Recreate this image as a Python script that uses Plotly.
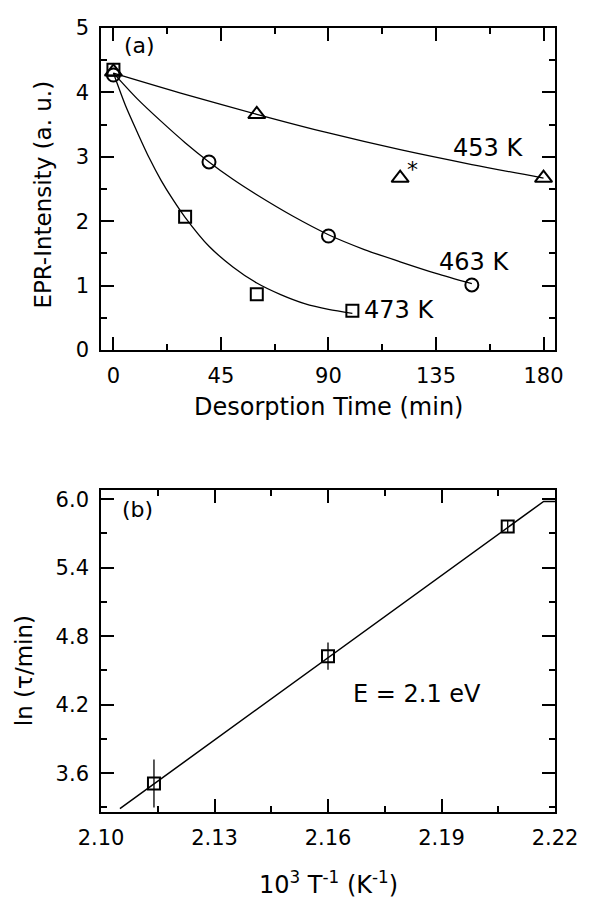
import plotly.graph_objects as go

# ---------------- data: panel (a) ----------------
t_453 = [0, 60, 180]
I_453 = [4.32, 3.66, 2.67]
t_453_star = [120]
I_453_star = [2.67]
t_463 = [0, 40, 90, 150]
I_463 = [4.27, 2.92, 1.77, 1.01]
t_473 = [0, 30, 60, 100]
I_473 = [4.35, 2.07, 0.865, 0.61]

# fit curves
tf_453 = [0, 30, 60, 90, 120, 150, 180]
If_453 = [4.30, 3.97, 3.66, 3.37, 3.11, 2.88, 2.67]
tf_463 = [0, 10, 20, 30, 40, 50, 60, 75, 90, 105, 120, 135, 150]
If_463 = [4.30, 3.90, 3.55, 3.22, 2.92, 2.65, 2.41, 2.08, 1.79, 1.56, 1.37, 1.19, 1.03]
tf_473 = [0, 5, 10, 15, 20, 25, 30, 40, 50, 60, 70, 80, 90, 100]
If_473 = [4.30, 3.80, 3.38, 2.98, 2.63, 2.33, 2.06, 1.61, 1.29, 1.04, 0.86, 0.72, 0.63, 0.57]

# ---------------- data: panel (b) ----------------
invT = [2.114, 2.160, 2.2075]
ln_tau = [3.51, 4.625, 5.76]
ln_tau_err = [0.21, 0.12, 0.05]
fit_x = [2.105, 2.217, 2.22]
fit_y = [3.29, 5.98, 5.98]

FONT = "DejaVu Sans"
BLK = "black"

fig = go.Figure()

def line(x, y, xa, ya, w=1.3, shape="spline"):
    fig.add_trace(go.Scatter(x=x, y=y, mode="lines", xaxis=xa, yaxis=ya,
                             line=dict(color=BLK, width=w, shape=shape, smoothing=0.8),
                             hoverinfo="skip"))

def pts(x, y, sym, size, xa, ya, err=None):
    kw = {}
    if err is not None:
        kw["error_y"] = dict(type="data", array=err, color=BLK, thickness=1.3, width=0)
    fig.add_trace(go.Scatter(x=x, y=y, mode="markers", xaxis=xa, yaxis=ya,
                             marker=dict(symbol=sym, size=size, color=BLK,
                                         line=dict(color=BLK, width=2)), **kw))

line(tf_473, If_473, "x", "y")
line(tf_463, If_463, "x", "y")
line(tf_453, If_453, "x", "y")
pts(t_473, I_473, "square-open", 12, "x", "y")
pts(t_463, I_463, "circle-open", 13, "x", "y")
pts(t_453, I_453, "triangle-up-open", 15, "x", "y")
pts(t_453_star, I_453_star, "triangle-up-open", 15, "x", "y")

line(fit_x, fit_y, "x2", "y2", w=1.5, shape="linear")
pts(invT, ln_tau, "square-open", 12, "x2", "y2", err=ln_tau_err)

tickfont = dict(family=FONT, size=21, color=BLK)

def axis(**kw):
    d = dict(showline=True, linecolor=BLK, linewidth=1.6, mirror="ticks",
             ticks="inside", ticklen=13, tickwidth=1.5, tickcolor=BLK,
             showgrid=False, zeroline=False, tickfont=tickfont)
    d.update(kw)
    return d

def minor(dt, t0=0):
    return dict(ticks="inside", ticklen=6, tickwidth=1.5, tickcolor=BLK,
                dtick=dt, tick0=t0, showgrid=False)

# plot area: x 101..562 px, y 28..812 px
fig.update_layout(
    width=590, height=903,
    margin=dict(l=101, r=28, t=28, b=91),
    paper_bgcolor="white", plot_bgcolor="white",
    showlegend=False,
    font=dict(family=FONT, color=BLK),
    xaxis=axis(domain=[0, 1], anchor="y", range=[-5.2, 184.8], tick0=0, dtick=45,
               minor=minor(22.5), ticklabelstandoff=6),
    yaxis=axis(domain=[0.5893, 1], anchor="x", range=[0, 5], tick0=0, dtick=1,
               minor=minor(0.5), ticklabelstandoff=6),
    xaxis2=axis(domain=[0, 1], anchor="y2", range=[2.10, 2.22], tick0=2.10, dtick=0.03,
                tickformat=".2f", minor=minor(0.015, 2.10), ticklabelstandoff=6),
    yaxis2=axis(domain=[0, 0.4107], anchor="x2", range=[3.26, 6.08], tick0=0, dtick=0.6,
                tickformat=".1f", minor=minor(0.3), ticklabelstandoff=6),
)

def ann(text, x, y, xref, yref, size, angle=0, xanchor="center", yanchor="middle"):
    fig.add_annotation(text=text, x=x, y=y, xref=xref, yref=yref, showarrow=False,
                       textangle=angle, xanchor=xanchor, yanchor=yanchor,
                       font=dict(family=FONT, size=size, color=BLK))

# panel labels and texts
ann("(a)", 0.047, 0.947, "x domain", "y domain", 22, xanchor="left")
ann("(b)", 0.041, 0.938, "x2 domain", "y2 domain", 22, xanchor="left")
ann("453 K", 156.8, 3.13, "x", "y", 24)
ann("463 K", 150.7, 1.37, "x", "y", 24)
ann("473 K", 119.7, 0.62, "x", "y", 24)
ann("*", 125.3, 2.80, "x", "y", 22)
ann("E = 2.1 eV", 2.1836, 4.297, "x2", "y2", 24)

# axis titles
ann("EPR-Intensity (a. u.)", -0.1286, 0.787, "paper", "paper", 23, angle=-90)
ann("Desorption Time (min)", 0.5, (812 - 407) / 784, "paper", "paper", 24)
ann("ln (τ/min)", -0.169, 0.18, "paper", "paper", 23, angle=-90)
ann("10<sup>3</sup> T<sup>-1</sup> (K<sup>-1</sup>)", 0.5, (812 - 901) / 784, "paper", "paper", 24,
    yanchor="bottom")

fig.write_html("out.html")
